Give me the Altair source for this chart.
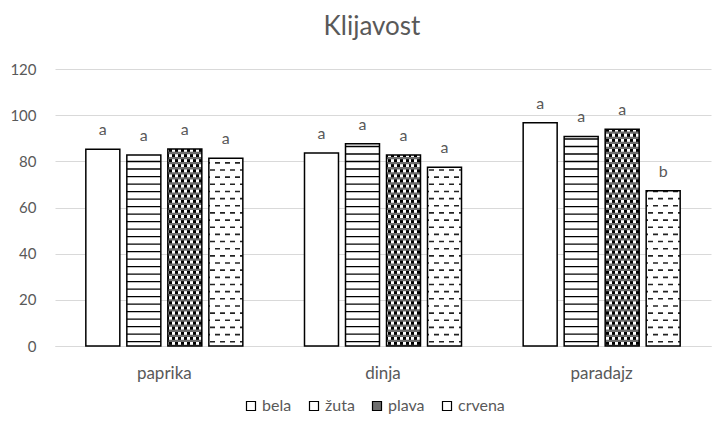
import altair as alt
import pandas as pd

# ---- data ----
categories = ["paprika", "dinja", "paradajz"]
series = ["bela", "žuta", "plava", "crvena"]
bela = [85.2, 83.6, 96.7]
zuta = [82.7, 87.6, 90.8]
plava = [85.3, 82.7, 93.9]
crvena = [81.3, 77.4, 67.3]
letters_bela = ["a", "a", "a"]
letters_zuta = ["a", "a", "a"]
letters_plava = ["a", "a", "a"]
letters_crvena = ["a", "a", "b"]
y_ticks = [0, 20, 40, 60, 80, 100, 120]
chart_title = "Klijavost"

values = {"bela": bela, "žuta": zuta, "plava": plava, "crvena": crvena}
letters = {"bela": letters_bela, "žuta": letters_zuta, "plava": letters_plava, "crvena": letters_crvena}

bars = pd.DataFrame(
    [dict(cat=c, ser=s, value=values[s][i], letter=letters[s][i])
     for s in series for i, c in enumerate(categories)]
)


# ---- pattern rows (derived from the bar values) ----
def pattern_rows(kind, ser, step, thick, start):
    out = []
    for i, c in enumerate(categories):
        v = values[ser][i]
        k = 0
        while True:
            lo = start + k * step
            if lo >= v:
                break
            out.append(dict(cat=c, ser=ser, kind=kind, phase=k % 2, y=lo, y2=min(lo + thick, v)))
            k += 1
    return out


rows = pd.DataFrame(
    pattern_rows("stripe", "žuta", 3.25, 0.6, 1.6)
    + pattern_rows("dots", "plava", 2.2, 1.2, 0.5)
    + pattern_rows("dash", "crvena", 3.1, 0.7, 1.5)
)


def dash_fill(period, dash, shift, color="black", bg="white"):
    segs = []
    t = shift - period
    while t < 1:
        a, b = max(t, 0.0), min(t + dash, 1.0)
        if b > a:
            segs.append((a, b))
        t += period
    stops = []
    for a, b in segs:
        stops += [
            {"offset": a, "color": bg},
            {"offset": a, "color": color},
            {"offset": b, "color": color},
            {"offset": b, "color": bg},
        ]
    return {"gradient": "linear", "x1": 0, "y1": 0, "x2": 1, "y2": 0, "stops": stops}


BW = 34.0  # approx bar width in px, for pattern proportions
GREY = "#595959"

x_enc = alt.X("cat:N", scale=alt.Scale(domain=categories, paddingInner=0.282, paddingOuter=0.141),
              axis=alt.Axis(title=None, ticks=False, labelPadding=19, labelFontSize=17,
                            labelColor=GREY, domainColor="#d9d9d9", labelAngle=0))
xo_enc = alt.XOffset("ser:N", scale=alt.Scale(domain=series, paddingInner=0.171, paddingOuter=0))
y_scale = alt.Scale(domain=[0, 120], nice=False)

base = alt.Chart(bars).mark_bar(strokeWidth=0).encode(
    x=x_enc,
    xOffset=xo_enc,
    y=alt.Y("value:Q", scale=y_scale,
            axis=alt.Axis(title=None, values=y_ticks, domain=False, ticks=False, labelPadding=19,
                          labelFontSize=15, labelColor=GREY, gridColor="#d9d9d9")),
    fill=alt.Fill("ser:N", scale=alt.Scale(domain=series, range=["white", "white", "#6e6e6e", "white"]),
                  legend=alt.Legend(title=None, orient="none", direction="horizontal",
                                    legendX=188, legendY=329, symbolType="square", symbolSize=81,
                                    symbolStrokeColor="black", symbolStrokeWidth=1.2,
                                    labelFontSize=16, labelColor=GREY, columnPadding=14,
                                    labelOffset=3)),
)

def pat_layer(kind, phase, fill):
    return alt.Chart(rows).transform_filter(
        f"datum.kind == '{kind}' && datum.phase == {phase}"
    ).mark_bar(fill=fill, strokeWidth=0).encode(
        x=x_enc, xOffset=xo_enc, y=alt.Y("y:Q", scale=y_scale), y2="y2:Q"
    )

stripes = pat_layer("stripe", 0, "black")
stripes1 = pat_layer("stripe", 1, "black")
dots0 = pat_layer("dots", 0, dash_fill(6 / BW, 3 / BW, 1.0 / BW))
dots1 = pat_layer("dots", 1, dash_fill(6 / BW, 3 / BW, 4.0 / BW))
dash0 = pat_layer("dash", 0, dash_fill(10 / BW, 5 / BW, 1.5 / BW, color="#222222"))
dash1 = pat_layer("dash", 1, dash_fill(10 / BW, 5 / BW, 6.5 / BW, color="#222222"))

outline = alt.Chart(bars).mark_bar(fillOpacity=0, stroke="black", strokeWidth=1.5).encode(
    x=x_enc, xOffset=xo_enc, y=alt.Y("value:Q", scale=y_scale)
)

labels = alt.Chart(bars).mark_text(baseline="alphabetic", dy=-14, fontSize=16, color=GREY).encode(
    x=x_enc, xOffset=xo_enc, y=alt.Y("value:Q", scale=y_scale), text="letter:N"
)

chart = alt.layer(base, stripes, stripes1, dots0, dots1, dash0, dash1, outline, labels).properties(
    width=656,
    height=277,
    padding={"left": 47, "top": 61, "right": 2, "bottom": 68},
    autosize=alt.AutoSizeParams(type="none"),
    title=alt.TitleParams(chart_title, fontSize=26, fontWeight="normal", color=GREY,
                          anchor="middle", frame="group", offset=22, dx=-11),
).configure(font="Lato").configure_view(strokeWidth=0)

chart.save("out.html", embed_options={"renderer": "svg", "actions": False})
